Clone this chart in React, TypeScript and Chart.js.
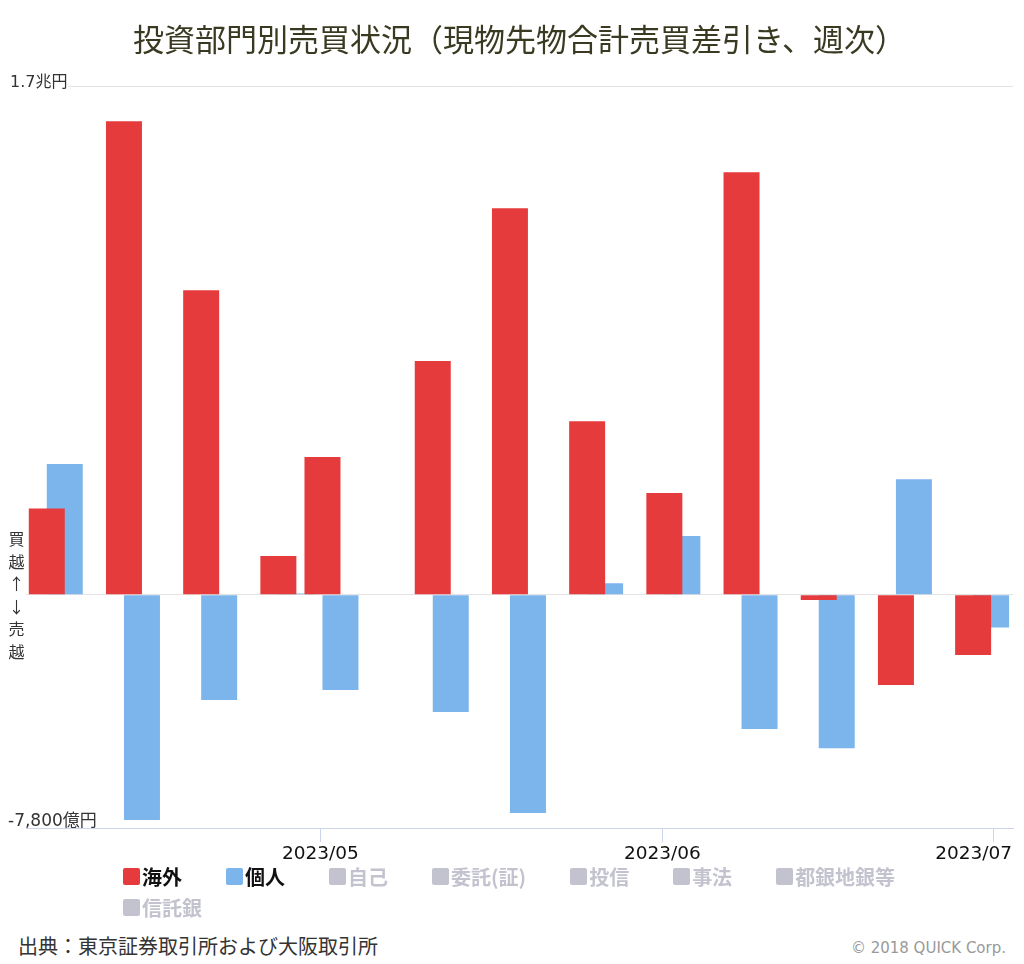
import React, { useEffect, useRef } from 'react';
import { Chart, registerables } from 'chart.js';

Chart.register(...registerables);

// ---- data ----
const titleText = '投資部門別売買状況（現物先物合計売買差引き、週次）';
const weekDates = [
  '2023-04-07', '2023-04-14', '2023-04-21', '2023-04-28', '2023-05-02',
  '2023-05-12', '2023-05-19', '2023-05-26', '2023-06-02', '2023-06-09',
  '2023-06-16', '2023-06-23', '2023-06-30',
];
// 億円
const foreignValues = [2880, 15830, 10180, 1290, 4600, 7810, 12920, 5800, 3400, 14120, -180, -3020, -2020];
const individualValues = [4370, -7530, -3520, 40, -3190, -3920, -7300, 380, 1960, -4490, -5130, 3860, -1100];
const activeSeries = ['海外', '個人'];
const seriesColors = ['#e63b3d', '#7cb5ec'];
const inactiveSeries = ['自己', '委託(証)', '投信', '事法', '都銀地銀等', '信託銀'];
const inactiveColor = '#c3c3cf';
const monthTickDates = ['2023-05-01', '2023-06-01', '2023-07-01'];
const monthTickLabels = ['2023/05', '2023/06', '2023/07'];
const yMin = -7800;
const yMax = 17000;
const yLabelValues = [17000, -7800];
const yLabelTexts = ['1.7兆円', '-7,800億円'];
const sideLabelChars = ['買', '越', '↑', '↓', '売', '越'];
const sourceText = '出典：東京証券取引所および大阪取引所';
const creditText = '© 2018 QUICK Corp.';

const toDay = (s: string) => {
  const [y, m, d] = s.split('-').map(Number);
  return Date.UTC(y, m - 1, d) / 86400000;
};

const xDays = weekDates.map(toDay);
const monthDays = monthTickDates.map(toDay);
const xMin = xDays[0] - 2.7;
const xMax = xDays[xDays.length - 1] + 2.8;

const latinFont = '"DejaVu Sans", "Noto Sans CJK JP", sans-serif';
const cjkFont = '"Noto Sans CJK JP", sans-serif';

const axisTextPlugin = {
  id: 'axisText',
  afterDraw(chart: any) {
    const { ctx, scales, width } = chart;
    const xs = scales.x;
    const ys = scales.y;
    ctx.save();
    // y labels
    ctx.textAlign = 'left';
    ctx.textBaseline = 'alphabetic';
    yLabelValues.forEach((v, i) => {
      const py = ys.getPixelForValue(v);
      const text = yLabelTexts[i];
      if (i === 0) {
        ctx.font = '16px ' + latinFont;
        const w = ctx.measureText(text).width;
        ctx.fillStyle = '#ffffff';
        ctx.fillRect(2, py - 15, w + 1, 18);
        ctx.fillStyle = '#333333';
        ctx.fillText(text, 2, py + 1);
      } else {
        ctx.font = '17px ' + latinFont;
        ctx.fillStyle = '#333333';
        ctx.fillText(text, 0, py - 2);
      }
    });
    // x labels
    ctx.font = '18.5px ' + latinFont;
    ctx.textAlign = 'center';
    ctx.textBaseline = 'middle';
    ctx.fillStyle = '#111111';
    monthDays.forEach((d, i) => {
      const text = monthTickLabels[i];
      const w = ctx.measureText(text).width;
      let px = xs.getPixelForValue(d);
      if (px + w / 2 > width - 4) px = width - 4 - w / 2;
      ctx.fillText(text, px, chart.chartArea.bottom + 26);
    });
    ctx.restore();
  },
};

export default function App() {
  const canvasRef = useRef<HTMLCanvasElement | null>(null);

  useEffect(() => {
    if (!canvasRef.current) return;
    const barOpts = { categoryPercentage: 0.816, barPercentage: 2, borderWidth: 0 };
    const chart = new Chart(canvasRef.current, {
      type: 'bar',
      data: {
        datasets: [
          {
            label: activeSeries[0],
            data: xDays.map((x, i) => ({ x, y: foreignValues[i] })),
            backgroundColor: seriesColors[0],
            ...barOpts,
          },
          {
            label: activeSeries[1],
            data: xDays.map((x, i) => ({ x, y: individualValues[i] })),
            backgroundColor: seriesColors[1],
            ...barOpts,
          },
        ],
      },
      options: {
        animation: false,
        responsive: true,
        maintainAspectRatio: false,
        layout: { padding: { left: 18, right: 3, top: 0, bottom: 36 } },
        plugins: {
          legend: { display: false },
          tooltip: { enabled: false },
          title: {
            display: true,
            text: titleText,
            color: '#3a3a22',
            font: { size: 31, family: cjkFont, weight: 'normal' },
            padding: { top: 13, bottom: 28 },
          },
        },
        scales: {
          x: {
            type: 'linear',
            min: xMin,
            max: xMax,
            offset: false,
            afterBuildTicks: (s: any) => {
              s.ticks = monthDays.map((v) => ({ value: v }));
            },
            ticks: { display: false },
            grid: { offset: false, drawOnChartArea: false, drawTicks: true, tickLength: 14, color: '#ccd6eb' },
            border: { display: true, color: '#ccd6eb', width: 1 },
          },
          y: {
            type: 'linear',
            min: yMin,
            max: yMax,
            afterBuildTicks: (s: any) => {
              s.ticks = [{ value: 0 }, { value: yMax }];
            },
            ticks: { display: false },
            grid: { color: '#e3e3e3', drawTicks: false },
            border: { display: false },
          },
        },
      } as any,
      plugins: [axisTextPlugin],
    } as any);
    return () => chart.destroy();
  }, []);

  const legendItems = [
    ...activeSeries.map((name, i) => ({ name, color: seriesColors[i], text: '#111111' })),
    ...inactiveSeries.map((name) => ({ name, color: inactiveColor, text: inactiveColor })),
  ];

  return (
    <div style={{ position: 'relative', width: 1008, height: 948, fontFamily: cjkFont }}>
      <div style={{ position: 'absolute', left: 0, top: 0, width: 1008, height: 870 }}>
        <canvas ref={canvasRef} />
      </div>
      <div
        style={{
          position: 'absolute',
          left: 0,
          top: 519,
          width: 17,
          fontSize: 16,
          lineHeight: '22.5px',
          textAlign: 'center',
          color: '#333333',
        }}
      >
        {sideLabelChars.map((c, i) => (
          <div key={i}>{c}</div>
        ))}
      </div>
      <div
        style={{
          position: 'absolute',
          left: 115,
          top: 853,
          width: 860,
          display: 'flex',
          flexWrap: 'wrap',
          columnGap: 44,
          rowGap: 0,
        }}
      >
        {legendItems.map((it) => (
          <div key={it.name} style={{ display: 'flex', alignItems: 'center', height: 31 }}>
            <span
              style={{
                display: 'inline-block',
                width: 17,
                height: 17,
                borderRadius: 2,
                background: it.color,
                marginRight: 2,
              }}
            />
            <span style={{ fontSize: 20, fontWeight: 'bold', color: it.text, lineHeight: '31px' }}>{it.name}</span>
          </div>
        ))}
      </div>
      <div
        style={{
          position: 'absolute',
          left: 10,
          top: 927,
          fontSize: 20,
          lineHeight: '22px',
          color: '#333333',
          whiteSpace: 'nowrap',
        }}
      >
        {sourceText}
      </div>
      <div
        style={{
          position: 'absolute',
          right: 10,
          top: 931,
          fontSize: 15,
          lineHeight: '18px',
          color: '#999999',
          fontFamily: latinFont,
          whiteSpace: 'nowrap',
        }}
      >
        {creditText}
      </div>
    </div>
  );
}
